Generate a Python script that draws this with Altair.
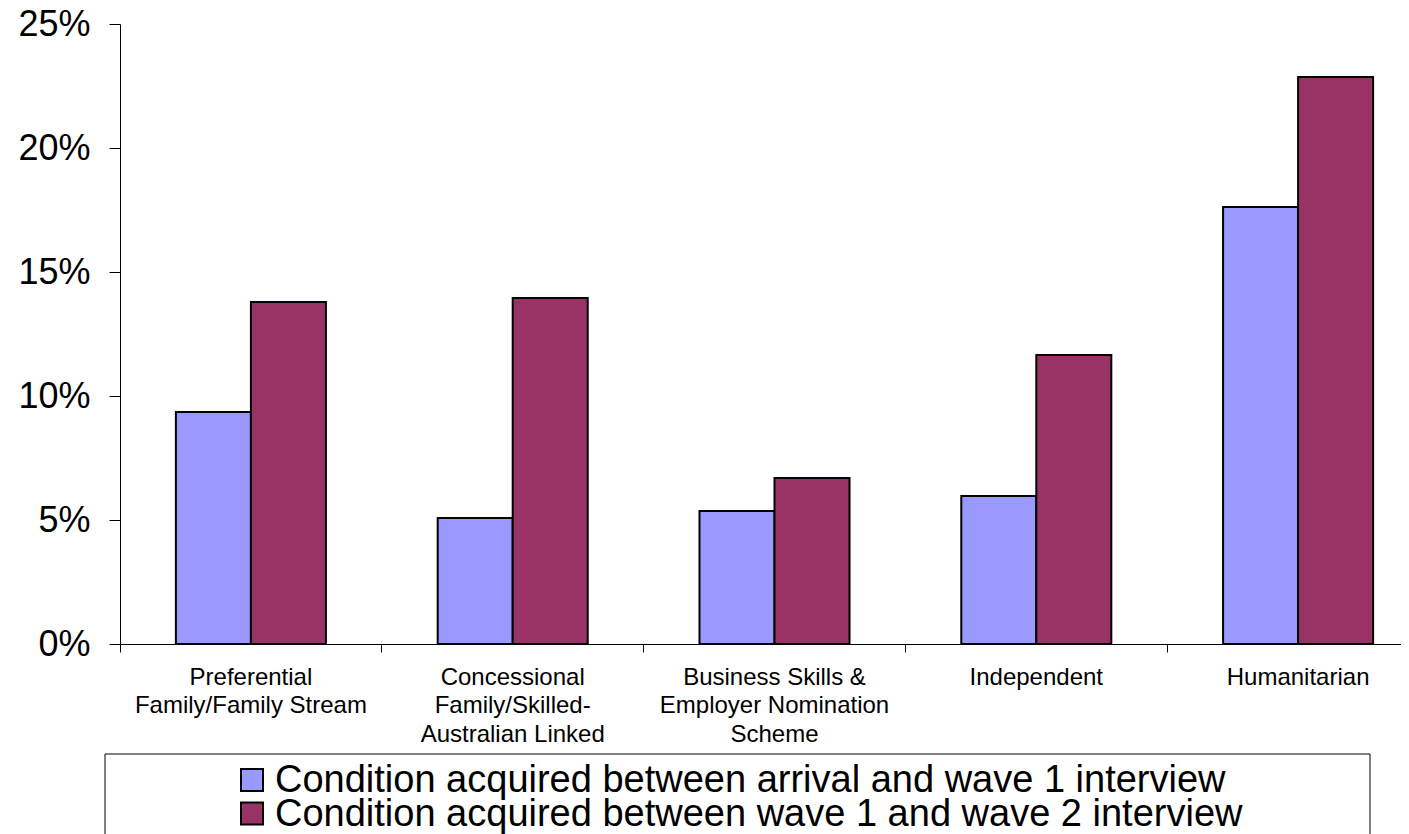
import altair as alt
import pandas as pd

categories = [
    "Preferential|Family/Family Stream",
    "Concessional|Family/Skilled-|Australian Linked",
    "Business Skills &|Employer Nomination|Scheme",
    "Independent",
    "Humanitarian",
]
series = [
    "Condition acquired between arrival and wave 1 interview",
    "Condition acquired between wave 1 and wave 2 interview",
]
arrival_to_wave1 = [0.0935, 0.0508, 0.0536, 0.0597, 0.1762]
wave1_to_wave2 = [0.1379, 0.1395, 0.0669, 0.1165, 0.2286]
colors = ["#9999FF", "#993366"]
y_ticks = [0, 0.05, 0.10, 0.15, 0.20, 0.25]

rows = []
for c, a, b in zip(categories, arrival_to_wave1, wave1_to_wave2):
    rows.append({"category": c, "series": series[0], "value": a})
    rows.append({"category": c, "series": series[1], "value": b})
df = pd.DataFrame(rows)
legend_df = pd.DataFrame({"series": series})

FONT = "Liberation Sans"
PLOT_W = 1309

color = alt.Color(
    "series:N", sort=series,
    scale=alt.Scale(domain=series, range=colors),
    legend=None,
)

bars = alt.Chart(df).mark_bar(stroke="black", strokeWidth=2).encode(
    x=alt.X(
        "category:N", sort=categories, title=None,
        scale=alt.Scale(range=[0, PLOT_W], paddingInner=0, paddingOuter=0),
        axis=alt.Axis(
            bandPosition=0,
            labelExpr="split(datum.label, '|')", labelAngle=0,
            labelFontSize=24, labelLineHeight=28.5, labelFont=FONT,
            labelColor="black", labelPadding=13, tickSize=8,
            tickColor="black", domainColor="black", labelLimit=0,
            labelOverlap=False, labelFlush=False,
        ),
    ),
    xOffset=alt.XOffset(
        "series:N", sort=series,
        scale=alt.Scale(paddingInner=0, paddingOuter=0.745),
    ),
    y=alt.Y(
        "value:Q", title=None,
        scale=alt.Scale(domain=[0, 0.25], nice=False),
        axis=alt.Axis(
            values=y_ticks, format=".0%", grid=False,
            labelFontSize=36, labelFont=FONT, labelColor="black",
            tickSize=11, labelPadding=19, tickColor="black",
            domainColor="black",
        ),
    ),
    color=color,
)

legend_y = alt.Y(
    "series:N", sort=series, axis=None,
    scale=alt.Scale(domain=series, range=[756, 789.5], padding=0),
)

legend_symbols = alt.Chart(legend_df).mark_square(
    size=484, stroke="black", strokeWidth=2, opacity=1, filled=True
).encode(x=alt.value(132), y=legend_y, color=color)

legend_labels = alt.Chart(legend_df).mark_text(
    align="left", baseline="middle", fontSize=38, font=FONT, color="black", dy=1
).encode(x=alt.value(155), y=legend_y, text="series:N")

box = alt.Chart(pd.DataFrame({"k": [0]})).mark_rect(
    fillOpacity=0, stroke="black", strokeWidth=1
).encode(
    x=alt.value(-15), x2=alt.value(1250), y=alt.value(730), y2=alt.value(900)
)

legend_layer = alt.layer(legend_symbols, legend_labels)

chart = alt.layer(bars, box, legend_layer).resolve_scale(y="independent").properties(
    width=1281, height=620,
    autosize=alt.AutoSizeParams(type="none"),
    padding={"left": 112, "top": 16, "right": 0, "bottom": 190},
).configure_view(stroke=None)

chart.save("out.html", embed_options={"renderer": "svg", "actions": False})
